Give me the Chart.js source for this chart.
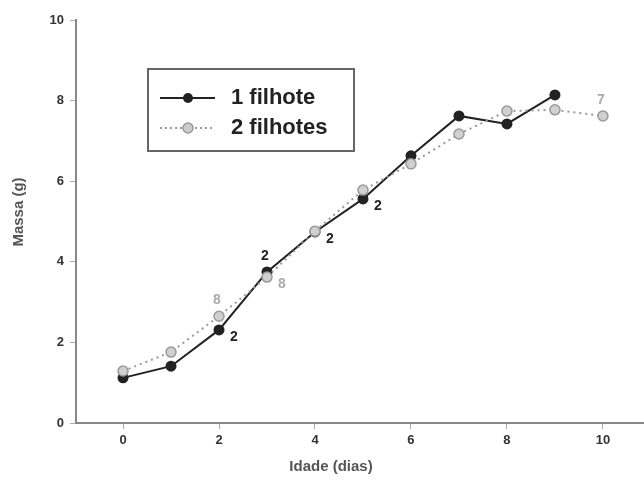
<!DOCTYPE html>
<html>
<head>
<meta charset="utf-8">
<script src="https://cdn.jsdelivr.net/npm/chart.js@4/dist/chart.umd.min.js"></script>
<style>
  body { margin: 0; background: #fff; overflow: hidden; }
  #wrap { width: 644px; height: 483px; position: relative; }
</style>
</head>
<body>
<div id="wrap"><canvas id="massChart"></canvas></div>
<script>
// idade (dias)
const idade1 = [0, 1, 2, 3, 4, 5, 6, 7, 8, 9];
const idade2 = [0, 1, 2, 3, 4, 5, 6, 7, 8, 9, 10];

// massa (g)
const massa1 = [1.12, 1.41, 2.31, 3.75, 4.74, 5.56, 6.63, 7.62, 7.42, 8.14];
const massa2 = [1.29, 1.76, 2.65, 3.62, 4.76, 5.78, 6.43, 7.17, 7.74, 7.77, 7.62];

// sample size notes (n) next to points
const nota1 = [null, null, '2', '2', '2', '2', null, null, null, null];
const nota2 = [null, null, '8', '8', null, null, null, null, null, null, '7'];

const xTicks = [0, 2, 4, 6, 8, 10];
const yTicks = [0, 2, 4, 6, 8, 10];

const serie1 = '1 filhote';
const serie2 = '2 filhotes';
const tituloX = 'Idade (dias)';
const tituloY = 'Massa (g)';

const toXY = (xs, ys) => xs.map((x, i) => ({ x, y: ys[i] }));
const FONT = '"Liberation Sans", Arial, sans-serif';

// where each note sits relative to its point
const notaPos1 = { 2: 'below-right', 3: 'above', 4: 'below-right', 5: 'below-right' };
const notaPos2 = { 2: 'above', 3: 'below-right', 10: 'above' };

const notesPlugin = {
    id: 'notes',
    afterDatasetsDraw(chart) {
        const { ctx, chartArea } = chart;
        const xs = chart.scales.x, ys = chart.scales.y;
        const draw = (xv, yv, notes, posMap, color) => {
            notes.forEach((t, i) => {
                if (!t) return;
                const px = xs.getPixelForValue(xv[i]);
                const py = ys.getPixelForValue(yv[i]);
                let dx = 15, dy = 7;
                if (posMap[i] === 'above') { dx = -2; dy = -16; }
                ctx.save();
                ctx.font = 'bold 14px ' + FONT;
                ctx.fillStyle = color;
                ctx.textAlign = 'center';
                ctx.textBaseline = 'middle';
                ctx.fillText(t, px + dx, py + dy);
                ctx.restore();
            });
        };
        draw(idade1, massa1, nota1, notaPos1, '#222');
        draw(idade2, massa2, nota2, notaPos2, '#aaa');

        // x axis line runs to the edge of the picture
        ctx.save();
        ctx.strokeStyle = '#888';
        ctx.lineWidth = 2;
        ctx.beginPath();
        ctx.moveTo(chartArea.right - 1, chartArea.bottom);
        ctx.lineTo(chart.width, chartArea.bottom);
        ctx.stroke();
        ctx.restore();

        // axis titles, placed as in the original (not centred on the plot)
        ctx.save();
        ctx.font = 'bold 15px ' + FONT;
        ctx.fillStyle = '#555';
        ctx.textAlign = 'center';
        ctx.textBaseline = 'middle';
        ctx.fillText(tituloX, 331, 467);
        ctx.translate(19, 212);
        ctx.rotate(-Math.PI / 2);
        ctx.fillText(tituloY, 0, 0);
        ctx.restore();
    }
};

const legendBoxPlugin = {
    id: 'legendBox',
    afterDraw(chart) {
        const { ctx } = chart;
        ctx.save();
        ctx.strokeStyle = '#666';
        ctx.lineWidth = 2;
        ctx.fillStyle = '#fff';
        ctx.fillRect(148, 69, 206, 82);
        ctx.strokeRect(148, 69, 206, 82);

        // 1 filhote
        ctx.strokeStyle = '#222';
        ctx.lineWidth = 2;
        ctx.beginPath();
        ctx.moveTo(160, 98); ctx.lineTo(215, 98);
        ctx.stroke();
        ctx.fillStyle = '#222';
        ctx.beginPath(); ctx.arc(188, 98, 5, 0, Math.PI * 2); ctx.fill();

        // 2 filhotes
        ctx.strokeStyle = '#999';
        ctx.setLineDash([2, 3]);
        ctx.beginPath();
        ctx.moveTo(160, 128); ctx.lineTo(215, 128);
        ctx.stroke();
        ctx.setLineDash([]);
        ctx.fillStyle = '#ccc';
        ctx.strokeStyle = '#999';
        ctx.lineWidth = 1.5;
        ctx.beginPath(); ctx.arc(188, 128, 5, 0, Math.PI * 2); ctx.fill(); ctx.stroke();

        ctx.fillStyle = '#222';
        ctx.font = 'bold 22px ' + FONT;
        ctx.textBaseline = 'middle';
        ctx.fillText(serie1, 231, 98);
        ctx.fillText(serie2, 231, 128);
        ctx.restore();
    }
};

new Chart(document.getElementById('massChart'), {
    type: 'scatter',
    data: {
        datasets: [
            {
                label: serie2,
                data: toXY(idade2, massa2),
                showLine: true,
                borderColor: '#999',
                borderWidth: 2,
                borderDash: [2, 4],
                pointRadius: 5,
                pointBackgroundColor: '#d0d0d0',
                pointBorderColor: '#999',
                pointBorderWidth: 1.5
            },
            {
                label: serie1,
                data: toXY(idade1, massa1),
                showLine: true,
                borderColor: '#222',
                borderWidth: 2,
                pointRadius: 4.5,
                pointBackgroundColor: '#222',
                pointBorderColor: '#222'
            }
        ]
    },
    options: {
        responsive: true,
        maintainAspectRatio: false,
        animation: false,
        layout: { padding: { top: 20, right: 0, left: 0, bottom: 0 } },
        plugins: {
            legend: { display: false },
            tooltip: { enabled: false }
        },
        scales: {
            x: {
                type: 'linear',
                min: -0.98,
                max: 10.72,
                afterBuildTicks: (s) => { s.ticks = xTicks.map(v => ({ value: v })); },
                afterFit: (s) => { s.height = 60; },
                border: { color: '#888', width: 2 },
                grid: { drawOnChartArea: false, drawTicks: true, tickLength: 6, color: '#aaa' },
                ticks: {
                    color: '#333',
                    padding: 4,
                    font: { family: FONT, size: 13, weight: 'bold' }
                }
            },
            y: {
                min: 0,
                max: 10,
                afterBuildTicks: (s) => { s.ticks = yTicks.map(v => ({ value: v })); },
                afterFit: (s) => { s.width = 76; },
                border: { color: '#888', width: 2 },
                grid: { drawOnChartArea: false, drawTicks: true, tickLength: 6, color: '#aaa' },
                ticks: {
                    color: '#333',
                    padding: 6,
                    font: { family: FONT, size: 13, weight: 'bold' }
                }
            }
        }
    },
    plugins: [notesPlugin, legendBoxPlugin]
});
</script>
</body>
</html>
